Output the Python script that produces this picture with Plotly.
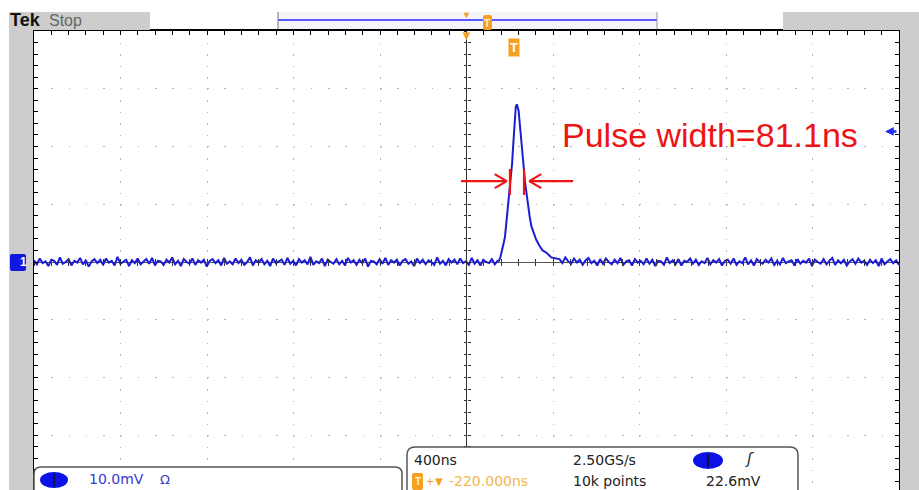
import numpy as np
import plotly.graph_objects as go

W, H = 919, 490

# ---------------- data (time in ns, amplitude in mV) ----------------
noise_left = [0.3,-0.4,0.6,-0.2,0.1,-0.7,0.4,0.2,-0.5,0.8,-0.3,0.0,0.5,-0.6,0.2,-0.1,0.7,-0.4,0.3,-0.8,
              0.1,0.5,-0.2,0.4,-0.5,0.6,-0.1,0.2,-0.6,0.9,-0.3,0.1,0.4,-0.7,0.3,-0.2,0.6,-0.4,0.0,0.5,
              -0.3,0.7,-0.6,0.2,0.1,-0.5,0.4,-0.1,0.8,-0.4,0.2,-0.7,0.5,0.0,-0.3,0.6,-0.5,0.3,-0.1,0.4,
              -0.8,0.2,0.5,-0.2,0.3,-0.6,0.7,-0.3,0.1,-0.4,0.6,-0.2,0.4,-0.5,0.0,0.8,-0.6,0.3,-0.1,0.5,
              -0.4,0.2,-0.7,0.6,-0.2,0.1,0.4,-0.5,0.7,-0.3,0.2,-0.6,0.5,-0.1,0.3,-0.4,0.9,-0.5,0.1,-0.2,
              0.6,-0.7,0.4,0.0,-0.3,0.5,-0.4,0.2,-0.6,0.7,-0.1,0.3,-0.5,0.4,-0.2,0.6,-0.8,0.2,0.1,-0.4,
              0.5,-0.3,0.7,-0.5,0.3,-0.1,0.4,-0.6,0.2,0.5,-0.3,0.1,-0.7,0.6,-0.2,0.4,-0.4,0.3,0.0,-0.5,
              0.8,-0.3,0.2,-0.6,0.5,-0.1,0.4,-0.4,0.6,-0.2,0.1,-0.5,0.7,-0.3,0.3,-0.6,0.4,0.0,-0.2,0.5,
              -0.4,0.2]
pulse_t = [150,157,164,171,178,185,192,199,206,211,215,220,224,228,233,237,241,245,250,257,
           263,270,277,284,292,300,310,322,336,352,370,392,415]
pulse_v = [0.2,0.9,1.8,3.1,4.4,6.9,9.3,11.9,14.2,17.1,19.7,23.3,25.5,26.9,27.3,26.8,26.2,24.5,22.7,19.8,
           17.1,14.0,11.7,9.5,7.9,6.2,5.2,3.9,2.9,2.0,1.6,0.8,0.6]
noise_right = [0.5,-0.2,0.8,0.1,-0.3,0.6,-0.1,0.4,-0.5,0.3,0.7,-0.2,0.2,-0.6,0.5,-0.3,0.6,0.0,-0.4,0.4,
               -0.2,0.7,-0.5,0.1,0.3,-0.6,0.5,-0.1,0.2,-0.4,0.6,-0.3,0.4,-0.7,0.2,0.1,-0.5,0.8,-0.2,0.3,
               -0.4,0.5,-0.6,0.2,0.0,0.6,-0.3,0.4,-0.5,0.1,-0.2,0.7,-0.4,0.3,-0.1,0.5,-0.6,0.2,0.4,-0.3,
               0.6,-0.5,0.1,-0.2,0.8,-0.4,0.3,-0.6,0.5,0.0,-0.3,0.4,-0.1,0.6,-0.5,0.2,-0.4,0.7,-0.2,0.1,
               0.3,-0.6,0.5,-0.3,0.2,-0.1,0.6,-0.7,0.4,0.0,-0.3,0.5,-0.4,0.2,0.7,-0.5,0.3,-0.2,0.4,-0.6,
               0.1,0.5,-0.3,0.6,-0.1,0.2,-0.5,0.4,-0.2,0.3,-0.7,0.6,-0.4,0.1,0.5,-0.2,0.3,-0.5]

time_range = [-2000, 2000]      # 10 div x 400 ns
ns_per_div = 400
mv_per_div = 10
trig_level_mv = 22.6
trig_pos_ns = 220
fwhm_left_ns, fwhm_right_ns, fwhm_level_mv = 201, 266, 14.0

pulse_label = "Pulse width=81.1ns"
brand, status = "Tek", "Stop"
ch_scale = "10.0mV"
timebase, sample_rate, record_len = "400ns", "2.50GS/s", "10k points"
trig_pos_text, trig_level_text = "-220.000ns", "22.6mV"

t_left = np.linspace(-2000, 144, len(noise_left))
t_right = np.linspace(430, 2000, len(noise_right))
t = np.concatenate([t_left, pulse_t, t_right])
v = np.concatenate([noise_left, pulse_v, noise_right])

# ---------------- geometry helpers (pixels -> paper) ----------------
FL, FR, FT = 34, 899, 31
def px(x): return x / W
def py(y): return 1 - y / H

div_px_y = 57.75
plot_h = H - FT
y_top = 4 * mv_per_div
y_bot = y_top - plot_h / div_px_y * mv_per_div

fig = go.Figure()
fig.add_trace(go.Scatter(x=t, y=v, mode="lines",
                         line=dict(color="#1c1cd4", width=2.0),
                         hoverinfo="skip", showlegend=False))
# helper traces for centre-graticule tick axes
for k in (2, 3):
    fig.add_trace(go.Scatter(x=[None], y=[None], xaxis=f"x{k}", yaxis=f"y{k}",
                             showlegend=False, hoverinfo="skip"))

xdom = [px(FL), px(FR)]
ydom = [0, py(FT)]
grid_x_dash = f"1.5px,{div_px_y/5-1.5:.2f}px"
grid_y_dash = f"1.5px,{86.5/5-1.5:.2f}px"

fig.update_layout(
    width=W, height=H, margin=dict(l=0, r=0, t=0, b=0),
    paper_bgcolor="white", plot_bgcolor="white", showlegend=False,
    xaxis=dict(domain=xdom, range=time_range, side="top", showline=True, linecolor="black",
               linewidth=2, mirror=False, ticks="inside", dtick=ns_per_div, tick0=0,
               ticklen=4, tickcolor="black", showticklabels=False,
               showgrid=True, gridcolor="#b4b4b4", gridwidth=1, griddash=grid_x_dash,
               zeroline=True, zerolinecolor="#333", zerolinewidth=1.2,
               minor=dict(dtick=ns_per_div/5, ticks="inside", ticklen=4, tickcolor="black",
                          showgrid=False),
               fixedrange=True),
    yaxis=dict(domain=ydom, range=[y_bot, y_top], showline=True, linecolor="black",
               linewidth=1.5, mirror="allticks", ticks="inside", dtick=mv_per_div, tick0=0,
               ticklen=4, tickcolor="black", showticklabels=False,
               showgrid=True, gridcolor="#b4b4b4", gridwidth=1, griddash=grid_y_dash,
               zeroline=True, zerolinecolor="#555", zerolinewidth=1,
               minor=dict(dtick=mv_per_div/5, ticks="inside", ticklen=4, tickcolor="black",
                          showgrid=False),
               fixedrange=True),
)
y0_frac = ydom[1] * (0 - y_bot) / (y_top - y_bot)
x0_frac = xdom[0] + (xdom[1] - xdom[0]) * 0.5
for k, tk in ((2, "outside"), (3, "inside")):
    fig.update_layout(**{
        f"xaxis{k}": dict(domain=xdom, range=time_range, overlaying="x", anchor="free",
                          position=y0_frac, side="bottom", showline=False, ticks=tk,
                          dtick=ns_per_div/5, tick0=0, ticklen=3, tickcolor="#333",
                          showticklabels=False, showgrid=False, zeroline=False),
        f"yaxis{k}": dict(domain=ydom, range=[y_bot, y_top], overlaying="y", anchor="free",
                          position=x0_frac, side="left", showline=False, ticks=tk,
                          dtick=mv_per_div/5, tick0=0, ticklen=3, tickcolor="#333",
                          showticklabels=False, showgrid=False, zeroline=False),
    })

shapes = []
def rect(x0, y0, x1, y1, fill, line=None, lw=0, layer="above"):
    shapes.append(dict(type="rect", xref="paper", yref="paper",
                       x0=px(x0), x1=px(x1), y0=py(y1), y1=py(y0),
                       fillcolor=fill, line=dict(color=line or fill, width=lw), layer=layer))
def rrect(x0, y0, x1, y1, r, fill, line, lw):
    pts = (f"M {px(x0+r)},{py(y0)} L {px(x1-r)},{py(y0)} Q {px(x1)},{py(y0)} {px(x1)},{py(y0+r)} "
           f"L {px(x1)},{py(y1-r)} Q {px(x1)},{py(y1)} {px(x1-r)},{py(y1)} "
           f"L {px(x0+r)},{py(y1)} Q {px(x0)},{py(y1)} {px(x0)},{py(y1-r)} "
           f"L {px(x0)},{py(y0+r)} Q {px(x0)},{py(y0)} {px(x0+r)},{py(y0)} Z")
    shapes.append(dict(type="path", xref="paper", yref="paper", path=pts,
                       fillcolor=fill, line=dict(color=line, width=lw), layer="above"))
def ellipse(x0, y0, x1, y1, fill):
    shapes.append(dict(type="circle", xref="paper", yref="paper",
                       x0=px(x0), x1=px(x1), y0=py(y1), y1=py(y0),
                       fillcolor=fill, line=dict(color=fill, width=0), layer="above"))
def pline(x0, y0, x1, y1, color, w):
    shapes.append(dict(type="line", xref="paper", yref="paper",
                       x0=px(x0), x1=px(x1), y0=py(y0), y1=py(y1),
                       line=dict(color=color, width=w), layer="above"))

GRAY = "#cdcdcd"
# side strips & top bar
rect(9, 12, FL - 1, H + 2, GRAY)
rect(9, 12, 150, FT - 1, GRAY)
rect(FR + 1, 12, W + 2, H + 2, GRAY)
rect(783, 12, W + 2, FT - 1, GRAY)
rect(278, 12, 657, FT - 2, "#f3f3f8")
pline(278, 20, 657, 20, "#5a5aff", 2)
pline(278, 12, 278, 29, "#777", 1)
pline(657, 12, 657, 29, "#999", 1)
rrect(483, 15, 492, 30, 2, "#f5a020", "#f5a020", 0)

# bottom readout boxes
rrect(FL, 467, 402, H + 8, 7, "white", "#555", 1.5)
rrect(407, 447, 798, H + 8, 8, "white", "#555", 1.5)
ellipse(40, 472, 68, 488, "#0a12e8")
ellipse(693, 452, 723, 469, "#0a12e8")
rrect(412, 473, 423, 490, 2, "#f5a020", "#f5a020", 0)
pline(54, 474, 54, 486, "#111", 1.6)
pline(708, 454, 708, 467, "#111", 1.6)

# channel 1 ground marker (left)
rrect(10, 254, 26, 271, 2, "#1018e0", "#1018e0", 0)

# FWHM red arrows (data coordinates)
RED = "#ee1414"
ns_px = ns_per_div / 86.5
mv_px = mv_per_div / div_px_y
head_dx, head_dy = 12 * ns_px, 7 * mv_px
def dline(x0, y0, x1, y1):
    shapes.append(dict(type="line", xref="x", yref="y", x0=x0, x1=x1, y0=y0, y1=y1,
                       line=dict(color=RED, width=2.2), layer="above"))
la_start, la_tip = -25, fwhm_left_ns - 15
ra_start, ra_tip = 493, fwhm_right_ns + 24
dline(la_start, fwhm_level_mv, la_tip, fwhm_level_mv)
dline(la_tip, fwhm_level_mv, la_tip - head_dx, fwhm_level_mv + head_dy)
dline(la_tip, fwhm_level_mv, la_tip - head_dx, fwhm_level_mv - head_dy)
dline(ra_start, fwhm_level_mv, ra_tip, fwhm_level_mv)
dline(ra_tip, fwhm_level_mv, ra_tip + head_dx, fwhm_level_mv + head_dy)
dline(ra_tip, fwhm_level_mv, ra_tip + head_dx, fwhm_level_mv - head_dy)
for xb in (fwhm_left_ns, fwhm_right_ns):
    dline(xb, fwhm_level_mv - 2.4, xb, fwhm_level_mv + 2.1)

fig.update_layout(shapes=shapes)

ann = []
def txt(x, y, s, size, color, family="DejaVu Sans", xanchor="left", bold=False, **kw):
    if bold:
        s = f"<b>{s}</b>"
    d = dict(xref="paper", yref="paper", x=px(x), y=py(y), text=s, showarrow=False,
             xanchor=xanchor, yanchor="middle", font=dict(size=size, color=color, family=family))
    d.update(kw)
    ann.append(d)

txt(8, 20, brand, 18, "#111", family="Liberation Sans", bold=True)
txt(47, 20, status, 16, "#666", family="Liberation Sans")
txt(487.5, 23, "T", 10, "#fff3d0", family="Liberation Sans", xanchor="center", bold=True)

# trigger markers
ann.append(dict(xref="x", yref="paper", x=0, y=py(14), text="▼", showarrow=False,
                font=dict(size=9, color="#f5a020"), yanchor="middle"))
ann.append(dict(xref="x", yref="paper", x=0, y=py(35), text="▼", showarrow=False,
                font=dict(size=13, color="#f5a020"), yanchor="middle"))
ann.append(dict(xref="x", yref="paper", x=trig_pos_ns, y=py(47), text="<b>T</b>", showarrow=False,
                font=dict(size=13, color="white", family="Liberation Sans"),
                bgcolor="#f5a020", borderpad=1, yanchor="middle"))
# trigger level arrow (right edge)
ann.append(dict(xref="paper", yref="y", x=px(885), y=trig_level_mv, ax=13, ay=0,
                text="", showarrow=True, arrowhead=2, arrowsize=0.7, arrowwidth=2.5,
                arrowcolor="#2030f0", standoff=0))
ann.append(dict(xref="paper", yref="y", x=px(18), y=0, text="<b>1</b>", showarrow=False,
                font=dict(size=12, color="white", family="Liberation Sans"), yanchor="middle"))

# pulse label
txt(560, 135, pulse_label, 34, RED, family="Liberation Sans")

# readouts
txt(87, 479, ch_scale, 14, "#3838d0")
txt(158, 479, "Ω", 13, "#3838d0")
txt(412, 460, timebase, 14, "#222")
txt(571, 460, sample_rate, 14, "#222")
txt(743, 459, "<i>ʃ</i>", 15, "#222")
txt(417.5, 481, "T", 10, "#fff3d0", family="Liberation Sans", xanchor="center", bold=True)
txt(424, 481, "+", 10, "#f5a020")
txt(433, 481, "▼", 10, "#f5a020")
txt(447, 481, trig_pos_text, 14, "#f2b650")
txt(571, 481, record_len, 14, "#222")
txt(704, 481, trig_level_text, 14, "#222")

fig.update_layout(annotations=ann)
fig.write_html("out.html")
